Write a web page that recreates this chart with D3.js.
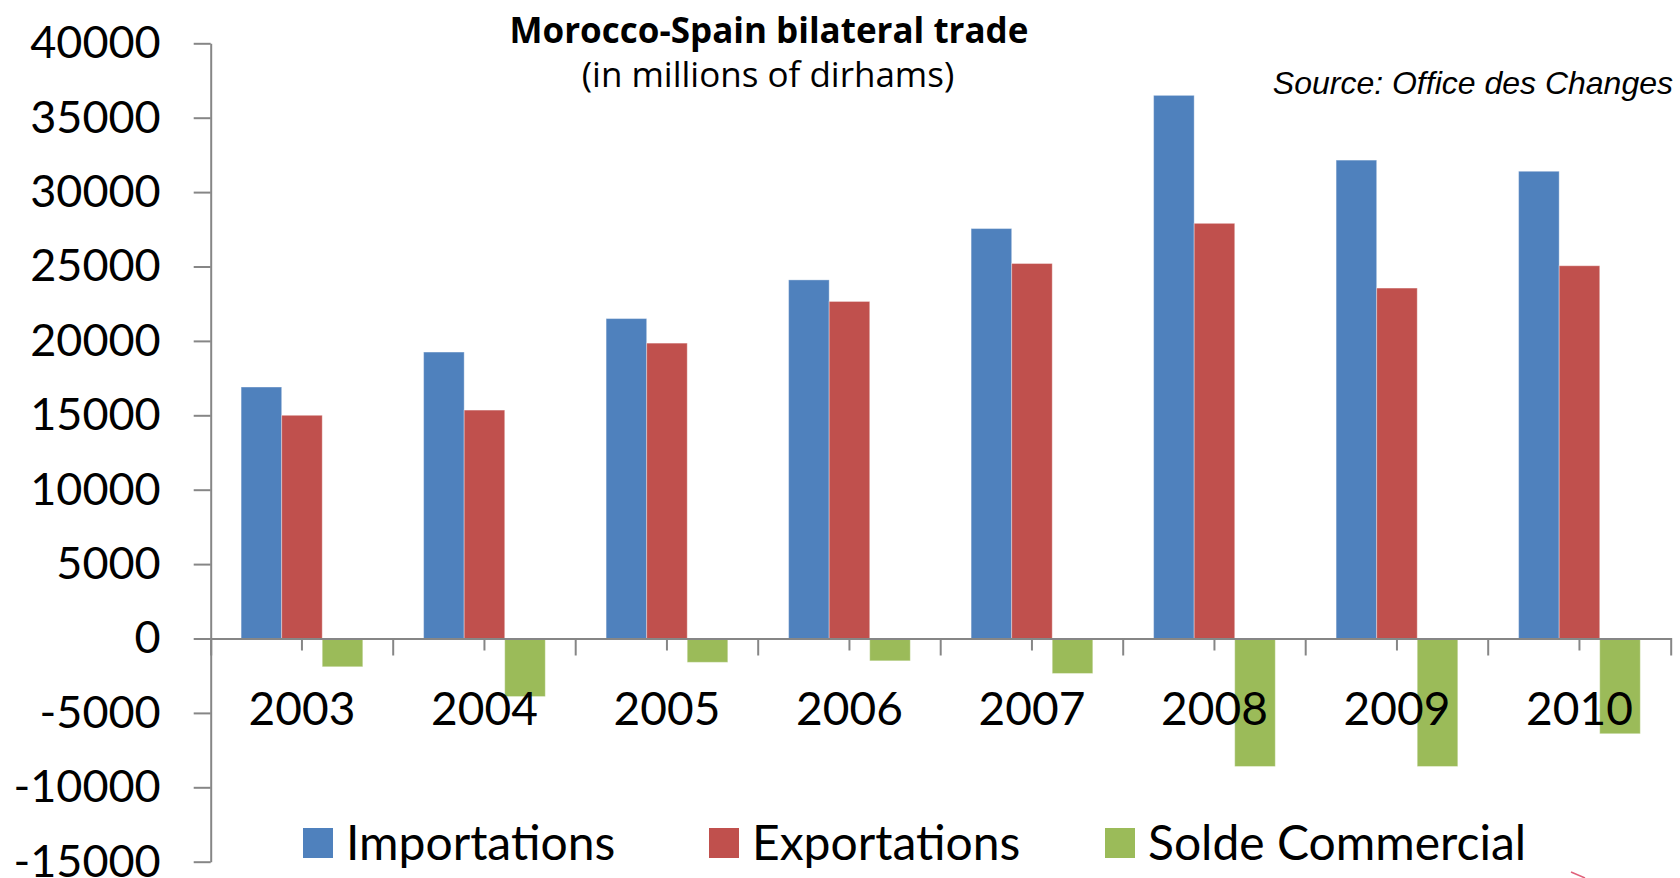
<!DOCTYPE html>
<html>
<head>
<meta charset="utf-8">
<script src="https://cdn.jsdelivr.net/npm/d3@7"></script>
<style>
  body { margin: 0; background: #fff; }
  svg { display: block; }
</style>
</head>
<body>
<script>
// Morocco-Spain bilateral trade, grouped bars

var years = ['2003', '2004', '2005', '2006', '2007', '2008', '2009', '2010'];
var seriesNames = ['Importations', 'Exportations', 'Solde Commercial'];
var importations = [16900, 19250, 21500, 24100, 27550, 36500, 32150, 31400];
var exportations = [15000, 15350, 19850, 22650, 25200, 27900, 23550, 25050];
var solde = [-1900, -3900, -1600, -1500, -2350, -8600, -8600, -6400];
var yTicks = [40000, 35000, 30000, 25000, 20000, 15000, 10000, 5000, 0, -5000, -10000, -15000];

var colors = ['#4F81BD', '#C0504D', '#9BBB59'];

// Width & Height
var w = 1680;
var h = 878;

var svg = d3.select('body')
	.append('svg')
	.attr('width', w)
	.attr('height', h);

var x = d3.scaleBand()
	.domain(years)
	.range([210.7, 1670.7])
	.padding(0);

var xs = d3.scaleBand()
	.domain(seriesNames)
	.range([0, x.bandwidth()])
	.paddingInner(0)
	.paddingOuter(0.75);

var y = d3.scaleLinear()
	.domain([-15000, 40000])
	.range([861.7, 43.3]);

// rows for the bars
var rows = [];
years.forEach(function(yr, i) {
	rows.push({year: yr, s: 0, v: importations[i]});
	rows.push({year: yr, s: 1, v: exportations[i]});
	rows.push({year: yr, s: 2, v: solde[i]});
});

// Bars
svg.append('g')
	.selectAll('rect')
	.data(rows)
	.enter()
	.append('rect')
	.attr('x', function(d) { return x(d.year) + xs(seriesNames[d.s]); })
	.attr('y', function(d) { return y(Math.max(0, d.v)); })
	.attr('width', xs.bandwidth())
	.attr('height', function(d) { return Math.abs(y(d.v) - y(0)); })
	.attr('fill', function(d) { return colors[d.s]; })
	.attr('stroke', 'rgba(255,255,255,0.35)')
	.attr('stroke-width', 1);

// Y axis (plain hyphen for negatives, like the original)
var yAxis = svg.append('g')
	.attr('transform', 'translate(210.7,0)')
	.call(d3.axisLeft(y)
		.tickValues(yTicks)
		.tickSizeInner(17)
		.tickSizeOuter(0)
		.tickPadding(33)
		.tickFormat(function(d) { return String(d); }));

yAxis.selectAll('line, path').attr('stroke', '#868686').attr('stroke-width', 2);
yAxis.selectAll('text')
	.attr('font-family', 'Lato, sans-serif')
	.attr('font-size', '45px')
	.attr('fill', '#000');

// X axis on the zero line
var xAxis = svg.append('g')
	.attr('transform', 'translate(0,' + y(0) + ')')
	.call(d3.axisBottom(x).tickSizeInner(12).tickSizeOuter(17).tickPadding(42));

xAxis.selectAll('line, path').attr('stroke', '#868686').attr('stroke-width', 2);
xAxis.selectAll('text')
	.attr('font-family', 'Lato, sans-serif')
	.attr('font-size', '46px')
	.attr('fill', '#000');

// category boundary ticks
xAxis.selectAll('.bound')
	.data(years.slice(1))
	.enter()
	.append('line')
	.attr('class', 'bound')
	.attr('x1', function(d) { return x(d); })
	.attr('x2', function(d) { return x(d); })
	.attr('y1', 0)
	.attr('y2', 17)
	.attr('stroke', '#868686')
	.attr('stroke-width', 2);

// Titles
svg.append('text')
	.text('Morocco-Spain bilateral trade')
	.attr('x', 769)
	.attr('y', 43)
	.attr('text-anchor', 'middle')
	.attr('font-family', '"Open Sans", sans-serif')
	.attr('font-weight', 'bold')
	.attr('font-size', '35px');

svg.append('text')
	.text('(in millions of dirhams)')
	.attr('x', 768)
	.attr('y', 87)
	.attr('text-anchor', 'middle')
	.attr('font-family', '"Open Sans", sans-serif')
	.attr('font-size', '35px');

svg.append('text')
	.text('Source: Office des Changes')
	.attr('x', 1673)
	.attr('y', 94)
	.attr('text-anchor', 'end')
	.attr('font-family', '"Liberation Sans", Arial, sans-serif')
	.attr('font-style', 'italic')
	.attr('font-size', '32px');

// Legend
var legendX = [303, 709, 1105];
var legend = svg.selectAll('.legend')
	.data(seriesNames)
	.enter()
	.append('g')
	.attr('class', 'legend')
	.attr('transform', function(d, i) { return 'translate(' + legendX[i] + ',828)'; });

legend.append('rect')
	.attr('width', 30)
	.attr('height', 30)
	.attr('fill', function(d, i) { return colors[i]; });

legend.append('text')
	.text(function(d) { return d; })
	.attr('x', 43)
	.attr('y', 32)
	.attr('font-family', 'Lato, sans-serif')
	.attr('font-size', '48px')
	.attr('fill', '#000');

// small stray mark at the bottom edge
svg.append('line')
	.attr('x1', 1571).attr('y1', 872)
	.attr('x2', 1585).attr('y2', 878)
	.attr('stroke', '#e0607a')
	.attr('stroke-width', 1.5);
</script>
</body>
</html>
